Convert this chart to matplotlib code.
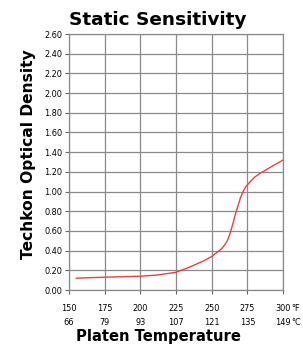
import matplotlib
matplotlib.use("Agg")
import matplotlib.pyplot as plt

# data
temp_f = [155, 175, 200, 212, 225, 235, 245, 250, 254, 257, 259, 261, 263, 265, 267, 269,
          270, 272, 274, 277, 280, 284, 291, 300]
density = [0.12, 0.13, 0.14, 0.152, 0.18, 0.235, 0.30, 0.34, 0.385, 0.42, 0.455, 0.50,
           0.58, 0.68, 0.79, 0.88, 0.93, 1.0, 1.05, 1.10, 1.145, 1.185, 1.245, 1.32]
ticks_f = [150, 175, 200, 225, 250, 275, 300]
ticks_c = [66, 79, 93, 107, 121, 135, 149]
ticks_y = [0.0, 0.2, 0.4, 0.6, 0.8, 1.0, 1.2, 1.4, 1.6, 1.8, 2.0, 2.2, 2.4, 2.6]

plt.rcParams['font.family'] = ['DejaVu Sans']

fig = plt.figure(figsize=(3.03, 3.45), dpi=100)
ax = fig.add_axes([69 / 303, 1 - 290 / 345, 214 / 303, 256 / 345])

ax.plot(temp_f, density, color='#e8403f', lw=1.0, solid_capstyle='round')

ax.set_xlim(150, 300)
ax.set_ylim(0, 2.6)
ax.set_xticks(ticks_f)
ax.set_yticks(ticks_y)
ax.set_yticklabels([f"{v:.2f}" for v in ticks_y])
ax.set_xticklabels([])
ax.tick_params(axis='y', labelsize=5.9, length=3, width=0.8, color='#666666', pad=2)
ax.tick_params(axis='x', length=3, width=0.8, color='#666666')
ax.grid(True, color='#8a8a8a', lw=0.9)
ax.set_axisbelow(True)
for s in ax.spines.values():
    s.set_color('#8a8a8a')
    s.set_linewidth(0.9)

# two rows of x labels: Fahrenheit and Celsius
trans = ax.get_xaxis_transform()
for f, c in zip(ticks_f, ticks_c):
    ax.annotate(str(f), (f, 0), xycoords=trans, xytext=(0, -13), textcoords='offset points',
                ha='center', va='center', fontsize=5.9)
    ax.annotate(str(c), (f, 0), xycoords=trans, xytext=(0, -23.5), textcoords='offset points',
                ha='center', va='center', fontsize=5.9)
ax.annotate("°F", (300, 0), xycoords=trans, xytext=(5.6, -13), textcoords='offset points',
            ha='left', va='center', fontsize=5.9)
ax.annotate("°C", (300, 0), xycoords=trans, xytext=(6.0, -23.5), textcoords='offset points',
            ha='left', va='center', fontsize=5.9)

fig.text(158 / 303, 1 - 20 / 345, "Static Sensitivity", ha='center', va='center',
         fontsize=13.3, fontweight='bold')
fig.text(158 / 303, 1 - 337 / 345, "Platen Temperature", ha='center', va='center',
         fontsize=10.6, fontweight='bold')
fig.text(29 / 303, 1 - 154 / 345, "Techkon Optical Density", ha='center', va='center',
         rotation=90, fontsize=11.2, fontweight='bold')

fig.savefig("out.png", dpi=100)
